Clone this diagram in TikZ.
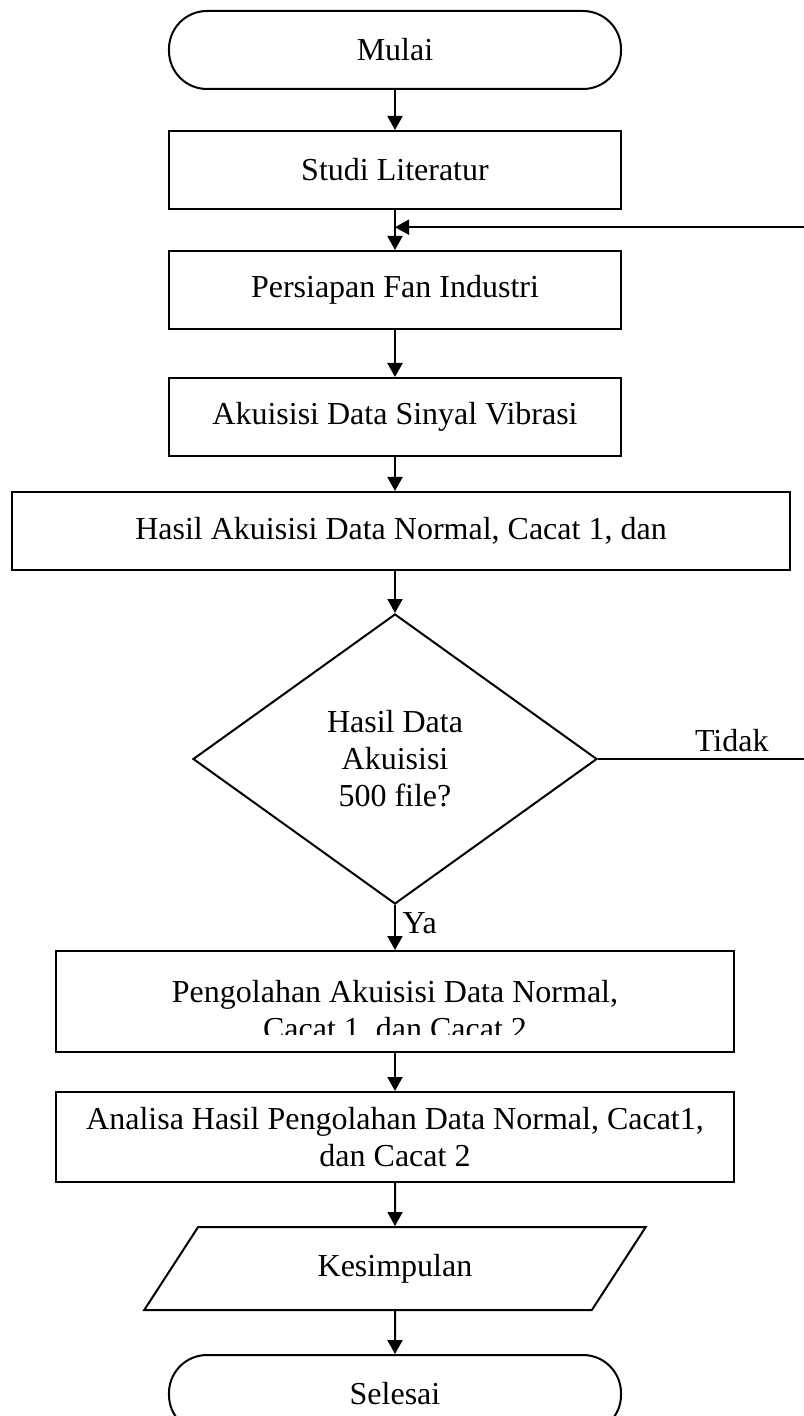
\documentclass[tikz,border=0pt]{standalone}
\usepackage{fontspec}
\setmainfont{Liberation Serif}
\usetikzlibrary{shapes.geometric,arrows.meta,positioning,calc}

\tikzset{
	box/.style={draw,line width=1pt,rectangle,minimum width=226pt,minimum height=39pt,inner sep=2pt,align=center},
	term/.style={draw,line width=1pt,rectangle,rounded corners=19pt,minimum width=226pt,minimum height=39pt},
	decision/.style={draw,line width=1pt,diamond,minimum width=202pt,minimum height=145pt,inner sep=0pt,align=center},
	io/.style={draw,line width=1pt,trapezium,trapezium left angle=61.5,trapezium right angle=118.5,trapezium stretches=true,minimum width=251pt,minimum height=41.5pt},
	arrow/.style={-{Triangle[length=7pt,width=7.5pt]},line width=1pt},
}

\begin{document}
\begin{tikzpicture}[font=\fontsize{16}{18.5}\selectfont]
	\useasboundingbox (-197.5pt,25pt) rectangle (204pt,-683pt);
	\node[term](mulai) at (0,0) {Mulai};
	\node[box](studi)[below=20pt of mulai]{Studi Literatur};
	\node[box](persiapan)[below=20pt of studi]{Persiapan Fan Industri};
	\node[box](akuisisi)[below=23.5pt of persiapan]{Akuisisi Data Sinyal Vibrasi};
	\node[box,minimum width=389pt](hasil)[below=17pt of akuisisi,xshift=3pt]{Hasil Akuisisi Data Normal, Cacat 1, dan};
	\node[decision](cek)[below=21pt of hasil,xshift=-3pt]{Hasil Data\\Akuisisi\\500 file?};
	\node[box,minimum width=338.5pt,minimum height=50.5pt](olah)[below=22.5pt of cek]{};
	\node[box,minimum width=338.5pt,minimum height=45pt](analisa)[below=19pt of olah]{Analisa Hasil Pengolahan Data Normal, Cacat1,\\dan Cacat 2};
	\node[io](kesimpulan)[below=21.5pt of analisa]{Kesimpulan};
	\node[term](selesai)[below=21.5pt of kesimpulan]{Selesai};
	\begin{scope}
		\clip (olah.north west) rectangle ([yshift=9.5pt]olah.south east);
		\node[anchor=north,inner sep=0pt,align=center](olahteks) at ([yshift=11pt]olah.center) {Pengolahan Akuisisi Data Normal,\\Cacat 1, dan Cacat 2};
	\end{scope}
	\coordinate (balik) at ($(studi.south)!0.43!(persiapan.north)$);
	\coordinate (kanan) at (206pt,0);
	\draw[arrow](mulai)--(studi);
	\draw[arrow](studi)--(persiapan);
	\draw[arrow](persiapan)--(akuisisi);
	\draw[arrow](akuisisi.south)--(akuisisi.south |- hasil.north);
	\draw[arrow](cek.north |- hasil.south)--(cek.north);
	\draw[arrow](cek)--node[right,pos=0.4]{Ya}(olah);
	\draw[arrow](olah)--(analisa);
	\draw[arrow](analisa)--(kesimpulan);
	\draw[arrow](kesimpulan)--(selesai);
	\draw[arrow](cek.east)--node[above,pos=0.64]{Tidak}(cek.east -| kanan) |- (balik);
\end{tikzpicture}
\end{document}
